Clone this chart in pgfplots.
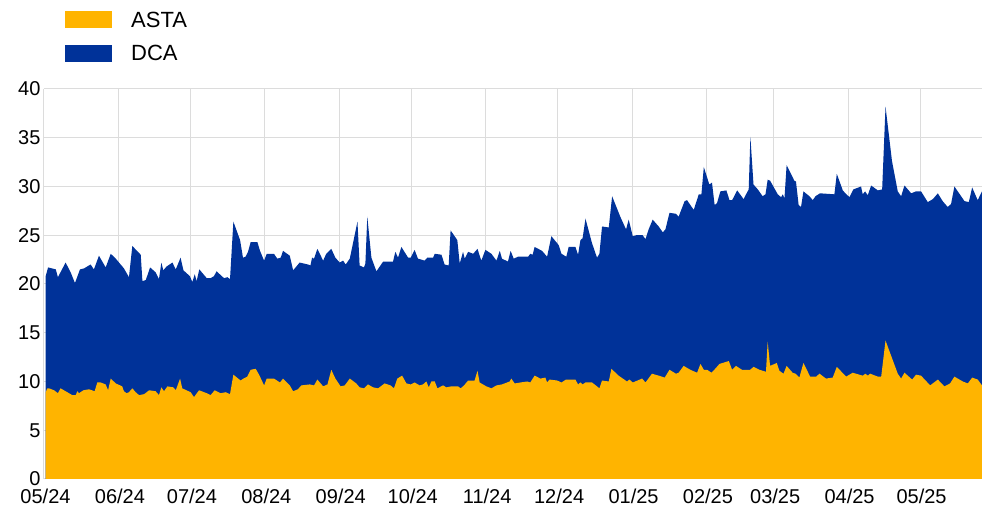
\documentclass[border=0pt]{standalone}
\usepackage{fontspec}
\setmainfont{Liberation Sans}
\usepackage{pgfplots}
\usepackage{pgfplotstable}
\pgfplotsset{compat=1.18}
\definecolor{ecbyellow}{HTML}{FFB400}
\definecolor{ecbblue}{HTML}{003299}
\definecolor{gridgray}{HTML}{DCDCDC}

% x = days since 1 May 2024; top of the stack (ASTA + DCA)
\pgfplotstableread{
day total
0.7 20.8
1.7 21.7
4.9 21.5
5.8 20.7
9.0 22.2
11.1 21.2
12.9 20.1
15.0 21.5
16.7 21.6
19.4 22.0
20.8 21.5
22.9 22.9
25.7 21.7
27.8 23.1
29.9 22.6
33.3 21.6
35.4 20.7
36.8 23.9
40.3 23.0
41.0 20.3
42.4 20.4
44.2 21.7
46.5 21.2
47.9 20.5
48.9 22.2
49.7 21.4
51.1 21.8
53.5 22.2
54.9 21.5
56.9 22.7
58.1 21.4
60.8 20.8
61.8 20.2
62.8 21.0
63.6 20.3
64.7 21.5
67.8 20.6
69.4 20.6
70.8 20.8
71.9 21.3
75.0 20.6
76.4 20.7
77.5 20.5
78.9 26.4
81.7 24.5
82.9 22.7
84.0 22.8
85.0 23.3
86.1 24.3
88.9 24.3
90.0 23.4
91.7 22.4
92.8 23.1
95.8 23.1
97.2 22.6
98.6 22.7
99.6 23.4
102.4 22.9
103.8 21.4
106.5 22.2
110.0 22.0
111.0 21.9
111.7 22.7
112.5 22.6
113.9 23.6
116.3 22.4
117.6 23.1
119.7 23.6
121.4 22.7
123.2 22.2
124.6 22.4
125.7 22.0
127.4 22.6
130.6 26.4
131.5 21.9
133.3 21.7
133.9 22.1
134.7 26.9
136.4 22.7
138.5 21.3
141.3 22.3
145.4 22.3
146.4 23.3
147.5 22.7
148.9 23.8
151.7 22.7
152.8 22.7
154.4 23.5
155.8 22.6
158.6 22.4
159.7 22.7
162.1 22.7
162.8 23.1
165.6 23.0
166.9 22.0
168.6 21.9
169.4 25.5
172.2 24.5
173.2 22.1
174.6 23.3
175.3 22.6
176.7 23.3
178.8 23.1
180.6 23.6
182.2 22.4
183.9 23.5
186.4 23.1
188.5 22.4
189.9 23.4
190.8 22.6
193.3 22.3
194.4 23.4
195.7 22.6
197.5 22.8
201.7 22.8
202.6 23.1
203.6 23.0
204.4 23.8
207.5 23.4
209.6 22.8
211.4 24.9
214.4 24.0
215.6 23.1
217.6 22.8
218.6 23.8
221.4 23.8
222.5 23.0
223.5 24.5
224.4 24.7
225.6 26.7
228.3 24.2
230.4 22.7
231.4 23.1
232.5 25.9
235.3 25.8
236.7 29.0
240.1 26.9
242.5 25.6
243.6 26.6
245.3 24.9
246.7 25.0
249.4 25.0
250.6 24.6
251.9 25.6
253.6 26.6
256.1 25.9
257.8 25.3
258.9 25.6
260.6 27.3
263.3 27.2
264.4 26.9
266.9 28.5
267.9 28.6
270.7 27.6
272.8 29.2
273.9 29.2
274.9 32.0
277.2 30.2
278.3 30.4
279.4 28.1
280.4 28.3
281.8 29.5
284.3 29.6
285.6 28.6
286.7 28.6
288.8 29.6
291.5 28.7
292.5 29.2
293.6 29.7
294.3 35.1
295.6 30.2
297.4 29.7
299.4 29.0
300.6 29.2
301.5 30.7
302.5 30.6
305.7 29.2
307.1 28.9
307.8 29.2
308.5 28.8
309.4 32.2
312.6 30.6
313.3 30.5
314.4 28.1
315.4 27.9
316.4 29.5
318.9 29.0
320.3 28.6
321.4 29.0
323.3 29.3
329.3 29.2
330.3 31.3
332.8 29.6
333.9 29.3
335.6 28.9
337.2 29.7
340.4 30.0
341.1 29.2
342.1 29.5
343.2 29.1
344.6 30.1
347.4 29.6
349.2 29.7
350.6 38.2
353.3 32.6
355.7 29.5
357.1 29.0
358.5 30.1
361.3 29.3
363.3 29.5
365.4 29.5
368.2 28.4
370.3 28.7
372.4 29.3
374.4 28.5
376.5 27.9
377.9 28.2
379.3 30.0
383.5 28.5
385.3 28.4
386.7 29.9
389.0 28.6
390.8 29.5
}\totaltab

% ASTA
\pgfplotstableread{
day asta
0.7 8.9
1.4 9.3
2.1 9.3
4.2 9.1
5.8 8.8
6.9 9.3
9.7 8.9
11.8 8.6
13.2 8.6
13.9 9.0
14.6 8.8
16.4 9.1
18.8 9.2
21.1 9.0
22.2 9.9
23.6 9.9
25.7 9.7
26.7 9.1
27.8 10.3
29.9 9.8
32.6 9.5
33.3 9.0
34.4 8.8
35.4 8.9
36.8 9.3
38.2 8.9
39.6 8.6
41.7 8.7
43.8 9.1
46.5 9.0
47.9 8.6
48.9 9.4
50.0 9.0
51.4 9.5
53.9 9.4
54.9 9.1
56.7 10.3
57.6 9.3
61.1 8.9
62.5 8.4
64.6 9.1
67.8 8.8
69.4 8.6
71.1 9.1
73.6 8.8
75.7 8.9
77.5 8.7
78.9 10.7
81.9 10.1
83.1 10.3
84.7 10.5
86.1 11.2
88.2 11.3
89.6 10.7
91.7 9.6
92.8 10.3
95.8 10.3
98.3 9.9
99.6 10.3
102.4 9.6
103.8 9.0
105.8 9.2
107.2 9.6
110.7 9.7
112.5 9.6
113.9 10.2
116.3 9.5
118.1 9.7
119.7 11.2
121.4 10.3
123.6 9.5
125.3 9.6
127.4 10.3
130.1 9.8
131.5 9.4
133.3 9.3
135.0 9.7
137.1 9.4
139.2 9.3
141.9 9.8
144.4 9.6
145.8 9.3
147.2 10.3
149.2 10.6
151.0 9.8
152.8 9.7
154.4 9.9
156.5 9.6
157.9 9.7
159.3 10.0
160.3 9.4
161.4 10.0
162.8 10.0
163.9 9.3
166.3 9.6
167.6 9.4
169.7 9.5
172.5 9.5
173.6 9.3
175.0 9.6
176.7 10.1
179.4 10.1
180.6 11.1
181.5 9.9
184.3 9.5
186.4 9.3
188.5 9.6
190.8 9.7
194.0 10.0
194.7 10.3
196.1 9.8
198.5 9.9
201.3 10.0
202.6 9.9
204.4 10.6
206.8 10.3
208.9 10.4
209.6 9.9
210.6 10.2
213.8 10.1
215.6 9.9
217.5 10.2
221.4 10.2
222.5 9.7
223.5 9.9
224.4 9.7
225.6 9.9
228.3 9.9
230.4 9.5
231.4 9.3
232.5 10.1
235.3 10.0
236.4 11.3
239.4 10.6
242.9 10.0
243.9 10.2
245.3 9.9
249.2 10.3
250.6 9.9
253.3 10.8
256.1 10.6
258.6 10.4
260.6 11.2
263.3 10.8
264.4 10.9
266.5 11.6
269.3 11.2
272.1 10.9
273.5 11.8
274.9 11.2
276.3 11.2
278.1 10.9
280.0 11.4
281.4 11.8
285.3 12.1
286.7 11.2
288.3 11.6
290.8 11.2
292.5 11.2
294.2 11.2
295.6 11.5
298.1 11.2
300.8 11.0
301.5 14.1
302.5 11.6
305.3 11.9
306.4 11.1
308.1 10.8
309.4 11.6
311.9 10.9
313.1 10.8
314.7 10.4
316.4 11.9
319.2 10.5
321.7 10.5
323.1 10.8
325.8 10.3
328.6 10.4
330.3 11.5
334.2 10.5
336.9 10.9
341.1 10.6
342.2 10.8
343.2 10.6
344.2 10.8
347.4 10.5
348.8 10.5
350.6 14.2
355.7 10.8
357.1 10.3
358.5 10.9
361.7 10.2
363.3 10.7
365.4 10.6
369.2 9.6
372.4 10.2
375.1 9.5
377.5 9.8
379.3 10.5
382.8 10.0
384.9 9.8
386.7 10.4
389.0 10.2
390.8 9.6
}\astatab

\begin{document}
\begin{tikzpicture}
\path[use as bounding box] (-44pt,-29pt) rectangle (938pt,479pt);
\begin{axis}[
  at={(0pt,0pt)}, anchor=south west,
  scale only axis, width=938pt, height=390pt,
  xmin=0, xmax=390.8, ymin=0, ymax=40,
  xtick={0,31,61,92,123,153,184,214,245,276,304,335,365},
  xticklabels={05/24,06/24,07/24,08/24,09/24,10/24,11/24,12/24,01/25,02/25,03/25,04/25,05/25},
  ytick={0,5,...,40},
  axis lines*=left,
  axis line style={-, gridgray, line width=1pt},
  grid=major, grid style={gridgray, line width=1pt},
  major tick length=0pt,
  tick label style={font=\fontsize{20}{22}\selectfont},
  xticklabel style={yshift=-6pt, xshift=1.5pt},
  /pgf/number format/assume math mode=true,
  reverse legend,
  legend style={at={(axis description cs:0.0224,1.2)}, anchor=north west,
    draw=none, fill=none, inner sep=0pt, nodes={inner sep=0pt},
    column sep=19pt, row sep=16pt,
    font=\fontsize{22}{24}\selectfont},
  legend cell align=left,
  legend image code/.code={\fill[#1] (0pt,-8pt) rectangle (47pt,9pt);},
]
\addplot[fill=ecbblue, draw=none] table[x=day, y=total] {\totaltab} \closedcycle;
\addlegendentry{DCA}
\addplot[fill=ecbyellow, draw=none] table[x=day, y=asta] {\astatab} \closedcycle;
\addlegendentry{ASTA}
\end{axis}
\end{tikzpicture}
\end{document}
